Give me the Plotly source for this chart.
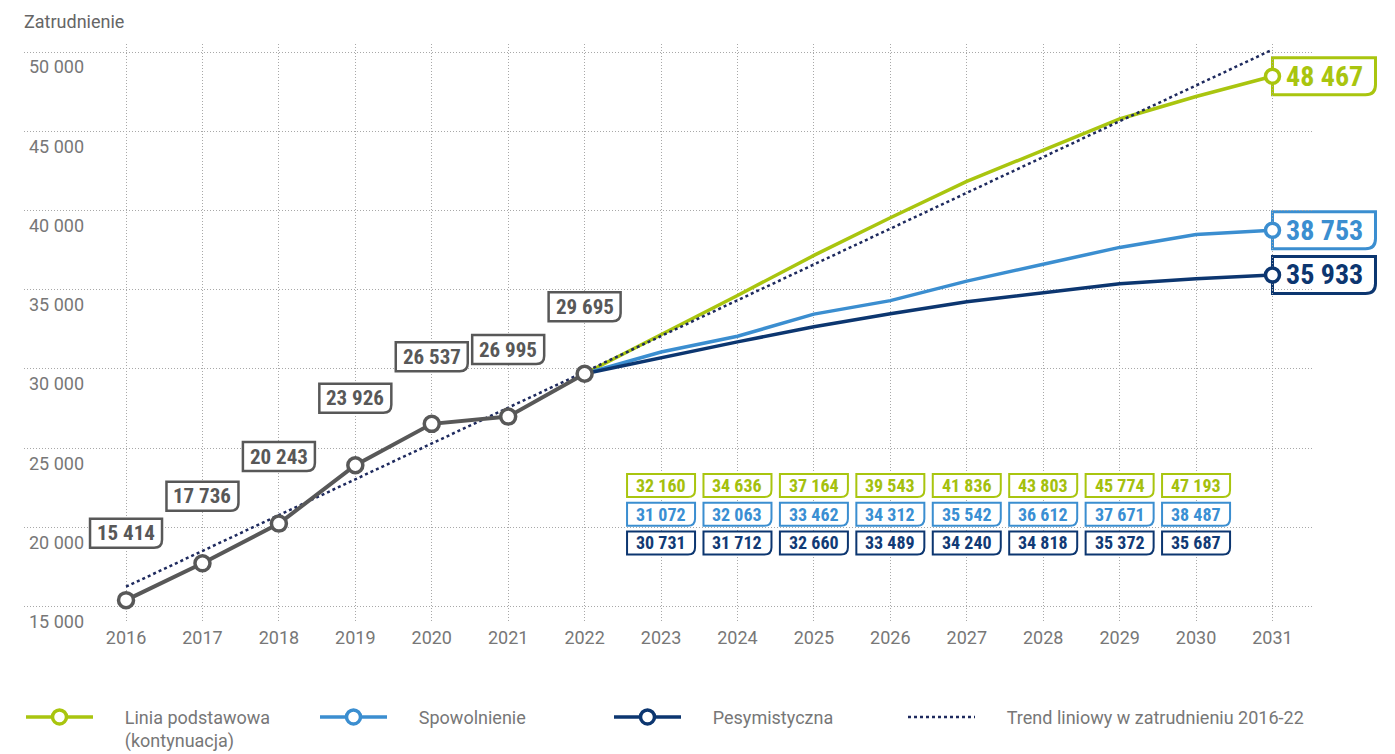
import plotly.graph_objects as go

# ---------------- data ----------------
hist_years = [2016, 2017, 2018, 2019, 2020, 2021, 2022]
hist_values = [15414, 17736, 20243, 23926, 26537, 26995, 29695]

fc_years = [2022, 2023, 2024, 2025, 2026, 2027, 2028, 2029, 2030, 2031]
base_values = [29695, 32160, 34636, 37164, 39543, 41836, 43803, 45774, 47193, 48467]
slow_values = [29695, 31072, 32063, 33462, 34312, 35542, 36612, 37671, 38487, 38753]
pess_values = [29695, 30731, 31712, 32660, 33489, 34240, 34818, 35372, 35687, 35933]

trend_years = [2016, 2031]
trend_values = [16260, 50150]

x_ticks = list(range(2016, 2032))
y_ticks = [15000, 20000, 25000, 30000, 35000, 40000, 45000, 50000]
y_tick_labels = ["15 000", "20 000", "25 000", "30 000", "35 000", "40 000", "45 000", "50 000"]

name_base = "Linia podstawowa<br>(kontynuacja)"
name_slow = "Spowolnienie"
name_pess = "Pesymistyczna"
name_trend = "Trend liniowy w zatrudnieniu 2016-22"
y_title = "Zatrudnienie"

# ---------------- style ----------------
GREEN = "#a9c50f"
BLUE = "#3b8ed0"
NAVY = "#0c3670"
GREY = "#585858"
TREND = "#1e2a5e"
GRID = "#a8a8a8"
TXT = "#777777"
LABEL_FONT = "Roboto Condensed, Oswald, DejaVu Sans Condensed, sans-serif"
PAD = "\u00a0" * 6
TABLE_ROW_Y = [22640, 20830, 19020]   # vertical placement of the small value table rows
FIG_W, FIG_H = 1387, 746              # page body adds an 8 px margin
X_RANGE = [2014.665, 2031.53]
Y_RANGE = [14034, 50505]


def fmt(v):
    return f"{v:,}".replace(",", " ")


def box_path(w, h, r, cx=0.0, cy=0.0):
    left, right = cx - w / 2, cx + w / 2
    top, bottom = cy + h / 2, cy - h / 2
    return (f"M{left},{top} L{right},{top} L{right},{bottom + r} "
            f"Q{right},{bottom} {right - r},{bottom} L{left},{bottom} Z")


def leg(name):
    return "<br>".join(PAD + part for part in name.split("<br>"))


def x_to_paper(x):
    return (x - X_RANGE[0]) / (X_RANGE[1] - X_RANGE[0])


fig = go.Figure()

# forecast lines
for vals, col in [(base_values, GREEN), (slow_values, BLUE), (pess_values, NAVY)]:
    fig.add_trace(go.Scatter(x=fc_years, y=vals, mode="lines",
                             line=dict(color=col, width=3.5), showlegend=False,
                             hoverinfo="skip"))

# trend
fig.add_trace(go.Scatter(x=trend_years, y=trend_values, mode="lines", name=leg(name_trend),
                         line=dict(color=TREND, width=2.5, dash="3px,3px"),
                         legend="legend2"))

# historical
fig.add_trace(go.Scatter(x=hist_years, y=hist_values, mode="lines+markers",
                         line=dict(color=GREY, width=4),
                         marker=dict(symbol="circle", size=15, color="white",
                                     line=dict(color=GREY, width=3.5)),
                         showlegend=False))

# end markers (legend entries)
for i, (vals, col, nm) in enumerate([(base_values, GREEN, name_base),
                                     (slow_values, BLUE, name_slow),
                                     (pess_values, NAVY, name_pess)]):
    fig.add_trace(go.Scatter(x=[fc_years[-1]], y=[vals[-1]], mode="lines+markers",
                             name=leg(nm),
                             line=dict(color=col, width=3.5),
                             marker=dict(symbol="circle", size=14, color="white",
                                         line=dict(color=col, width=3.5)),
                             legendrank=i + 1))

shapes = []
annotations = []

# historical labels
for yr, v in zip(hist_years, hist_values):
    shapes.append(dict(type="path", xref="x", yref="y", xsizemode="pixel", ysizemode="pixel",
                       xanchor=yr, yanchor=v, path=box_path(72, 29, 8, 0, 67),
                       line=dict(color=GREY, width=2.5), fillcolor="white", layer="between"))
    annotations.append(dict(x=yr, y=v, xref="x", yref="y", text=fmt(v), showarrow=False,
                            yshift=67, font=dict(family=LABEL_FONT, size=21, color=GREY,
                                                 weight="bold")))

# table labels
rows = [(base_values, GREEN, "#a4c00c", TABLE_ROW_Y[0]),
        (slow_values, BLUE, "#3a8fd3", TABLE_ROW_Y[1]),
        (pess_values, NAVY, "#113a75", TABLE_ROW_Y[2])]
for vals, lc, tc, yp in rows:
    for yr, v in zip(fc_years[1:-1], vals[1:-1]):
        shapes.append(dict(type="path", xref="x", yref="y", xsizemode="pixel",
                           ysizemode="pixel", xanchor=yr, yanchor=yp,
                           path=box_path(68, 23, 7), line=dict(color=lc, width=2),
                           fillcolor="white", layer="between"))
        annotations.append(dict(x=yr, y=yp, xref="x", yref="y", text=fmt(v),
                                showarrow=False,
                                font=dict(family=LABEL_FONT, size=18, color=tc, weight="bold")))

# end labels (paper x reference so the boxes are not clipped at the plot edge)
for vals, col in [(base_values, GREEN), (slow_values, BLUE), (pess_values, NAVY)]:
    shapes.append(dict(type="path", xref="paper", yref="y", xsizemode="pixel",
                       ysizemode="pixel", xanchor=x_to_paper(fc_years[-1]), yanchor=vals[-1],
                       path=box_path(103, 37, 10, 51.5, 0),
                       line=dict(color=col, width=3), fillcolor="white", layer="between"))
    annotations.append(dict(x=fc_years[-1], y=vals[-1], xref="x", yref="y", text=fmt(vals[-1]),
                            showarrow=False, xshift=52,
                            font=dict(family=LABEL_FONT, size=28, color=col, weight="bold")))

annotations.append(dict(x=-0.0015, y=1.0386, xref="paper", yref="paper", xanchor="left",
                        yanchor="middle", text=y_title, showarrow=False,
                        font=dict(family="Roboto", size=18, color="#666666")))

legend_common = dict(orientation="h", xref="container", yref="container",
                     yanchor="top", y=0.0741,
                     font=dict(family="Roboto", size=18, color=TXT),
                     itemwidth=67, valign="top", bgcolor="rgba(0,0,0,0)")

fig.update_layout(
    width=FIG_W, height=FIG_H,
    margin=dict(l=16, r=82, t=36, b=132),
    paper_bgcolor="white", plot_bgcolor="white",
    shapes=shapes, annotations=annotations,
    xaxis=dict(range=X_RANGE, tickvals=x_ticks, ticktext=[str(t) for t in x_ticks],
               showgrid=True, gridcolor=GRID, griddash="1px,2px", gridwidth=1,
               zeroline=False, showline=False, ticks="", ticklabelstandoff=3,
               tickfont=dict(family="Roboto", size=18, color=TXT)),
    yaxis=dict(range=Y_RANGE, tickvals=y_ticks, ticktext=y_tick_labels,
               showgrid=True, gridcolor=GRID, griddash="1px,2px", gridwidth=1,
               zeroline=False, showline=False, ticks="",
               ticklabelposition="inside", ticklabelshift=15, ticklabelstandoff=2,
               ticklabeloverflow="allow",
               tickfont=dict(family="Roboto", size=18, color=TXT)),
    legend=dict(**legend_common, x=13 / FIG_W, xanchor="left",
                entrywidth=212, entrywidthmode="pixels"),
    legend2=dict(**legend_common, x=895 / FIG_W, xanchor="left"),
    showlegend=True,
    hovermode=False,
)

fig.write_html("out.html")
